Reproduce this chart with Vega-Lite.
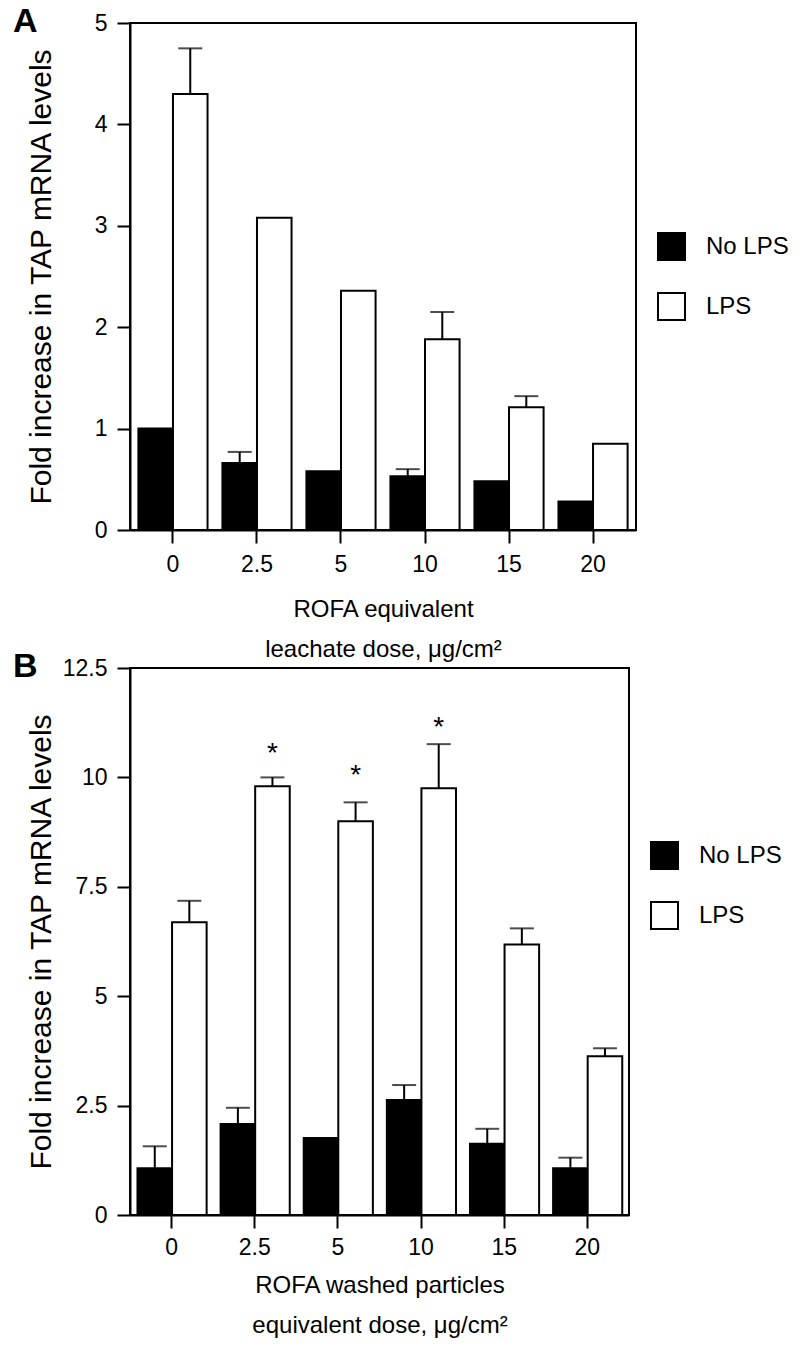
{
  "$schema": "https://vega.github.io/schema/vega-lite/v6.json",
  "background": "white",
  "padding": {"left": 12, "top": 4, "right": 5, "bottom": 5},
  "bounds": "flush",
  "spacing": 138,
  "resolve": {"scale": {"fill": "independent"}, "legend": {"fill": "independent"}},
  "config": {
    "font": "Liberation Sans",
    "view": {"stroke": "black", "strokeWidth": 2},
    "axis": {
      "domainColor": "black", "domainWidth": 2, "tickColor": "black", "tickWidth": 2, "tickSize": 13,
      "labelColor": "black", "labelFontSize": 23, "labelFont": "Liberation Sans",
      "titleFont": "Liberation Sans", "titleFontWeight": "normal", "titleColor": "black", "grid": false
    },
    "legend": {
      "labelFont": "Liberation Sans", "labelFontSize": 24, "labelColor": "black"
    }
  },
  "datasets": {
    "a": [
      {"dose": "0", "group": "No LPS", "value": 1.0, "upper": null},
      {"dose": "0", "group": "LPS", "value": 4.3, "upper": 4.75},
      {"dose": "2.5", "group": "No LPS", "value": 0.66, "upper": 0.77},
      {"dose": "2.5", "group": "LPS", "value": 3.08, "upper": null},
      {"dose": "5", "group": "No LPS", "value": 0.58, "upper": null},
      {"dose": "5", "group": "LPS", "value": 2.36, "upper": null},
      {"dose": "10", "group": "No LPS", "value": 0.53, "upper": 0.6},
      {"dose": "10", "group": "LPS", "value": 1.88, "upper": 2.15},
      {"dose": "15", "group": "No LPS", "value": 0.48, "upper": null},
      {"dose": "15", "group": "LPS", "value": 1.21, "upper": 1.32},
      {"dose": "20", "group": "No LPS", "value": 0.28, "upper": null},
      {"dose": "20", "group": "LPS", "value": 0.85, "upper": null}
    ],
    "b": [
      {"dose": "0", "group": "No LPS", "value": 1.07, "upper": 1.57},
      {"dose": "0", "group": "LPS", "value": 6.69, "upper": 7.18},
      {"dose": "2.5", "group": "No LPS", "value": 2.08, "upper": 2.45},
      {"dose": "2.5", "group": "LPS", "value": 9.8, "upper": 10.0},
      {"dose": "5", "group": "No LPS", "value": 1.76, "upper": null},
      {"dose": "5", "group": "LPS", "value": 9.0, "upper": 9.43},
      {"dose": "10", "group": "No LPS", "value": 2.63, "upper": 2.97},
      {"dose": "10", "group": "LPS", "value": 9.75, "upper": 10.76},
      {"dose": "15", "group": "No LPS", "value": 1.63, "upper": 1.97},
      {"dose": "15", "group": "LPS", "value": 6.18, "upper": 6.55},
      {"dose": "20", "group": "No LPS", "value": 1.07, "upper": 1.31},
      {"dose": "20", "group": "LPS", "value": 3.63, "upper": 3.81}
    ],
    "starsB": [
      {"dose": "2.5", "group": "LPS", "pos": 10.7, "label": "*"},
      {"dose": "5", "group": "LPS", "pos": 10.2, "label": "*"},
      {"dose": "10", "group": "LPS", "pos": 11.3, "label": "*"}
    ]
  },
  "vconcat": [
    {
      "width": 506,
      "height": 507,
      "title": {"text": "A", "anchor": "start", "frame": "group", "orient": "top", "offset": -41, "dx": -117, "dy": 13, "baseline": "alphabetic", "fontSize": 34, "fontWeight": "bold", "color": "black", "font": "Liberation Sans"},
      "data": {"name": "a"},
      "encoding": {
        "x": {
          "field": "dose", "type": "ordinal", "sort": ["0", "2.5", "5", "10", "15", "20"],
          "scale": {"paddingInner": 0.177, "paddingOuter": 0.1},
          "axis": {"labelAngle": 0, "labelPadding": 10, "title": ["ROFA equivalent", "leachate dose, μg/cm²"], "titleFontSize": 24, "titleLineHeight": 40, "titlePadding": 21}
        },
        "xOffset": {"field": "group", "type": "nominal", "sort": ["No LPS", "LPS"]}
      },
      "layer": [
        {
          "mark": {"type": "bar", "stroke": "black", "strokeWidth": 2},
          "encoding": {
            "y": {
              "field": "value", "type": "quantitative", "scale": {"domain": [0, 5], "nice": false},
              "axis": {"values": [0, 1, 2, 3, 4, 5], "format": ".1~f", "labelPadding": 10, "title": "Fold increase in TAP mRNA levels", "titleFontSize": 30, "titleX": -89, "titleY": 253.5, "titleAngle": -90, "titleBaseline": "middle", "titleAlign": "center"}
            },
            "fill": {
              "field": "group", "type": "nominal", "sort": ["No LPS", "LPS"],
              "scale": {"domain": ["No LPS", "LPS"], "range": ["black", "white"]},
              "legend": {"title": null, "orient": "none", "legendX": 527, "legendY": 209, "symbolType": "square", "symbolSize": 729, "symbolStrokeColor": "black", "symbolStrokeWidth": 2, "labelOffset": 20, "rowPadding": 25, "labelFontSize": 24}
            }
          }
        },
        {
          "transform": [{"filter": "datum.upper != null"}],
          "mark": {"type": "rule", "strokeWidth": 2, "color": "black"},
          "encoding": {"y": {"field": "value", "type": "quantitative"}, "y2": {"field": "upper"}}
        },
        {
          "transform": [{"filter": "datum.upper != null"}],
          "mark": {"type": "tick", "thickness": 2, "size": 24, "color": "black"},
          "encoding": {"y": {"field": "upper", "type": "quantitative"}}
        }
      ]
    },
    {
      "width": 499,
      "height": 547,
      "title": {"text": "B", "anchor": "start", "frame": "group", "orient": "top", "offset": -41, "dx": -117, "dy": 13, "baseline": "alphabetic", "fontSize": 34, "fontWeight": "bold", "color": "black", "font": "Liberation Sans"},
      "encoding": {
        "x": {
          "field": "dose", "type": "ordinal", "sort": ["0", "2.5", "5", "10", "15", "20"],
          "scale": {"paddingInner": 0.177, "paddingOuter": 0.09},
          "axis": {"labelAngle": 0, "labelPadding": 8, "title": ["ROFA washed particles", "equivalent dose, μg/cm²"], "titleFontSize": 24, "titleLineHeight": 40, "titlePadding": 14}
        },
        "xOffset": {"field": "group", "type": "nominal", "sort": ["No LPS", "LPS"]}
      },
      "layer": [
        {
          "data": {"name": "b"},
          "mark": {"type": "bar", "stroke": "black", "strokeWidth": 2},
          "encoding": {
            "y": {
              "field": "value", "type": "quantitative", "scale": {"domain": [0, 12.5], "nice": false},
              "axis": {"values": [0, 2.5, 5, 7.5, 10, 12.5], "format": ".1~f", "labelPadding": 10, "title": "Fold increase in TAP mRNA levels", "titleFontSize": 30, "titleX": -89, "titleY": 273.5, "titleAngle": -90, "titleBaseline": "middle", "titleAlign": "center"}
            },
            "fill": {
              "field": "group", "type": "nominal", "sort": ["No LPS", "LPS"],
              "scale": {"domain": ["No LPS", "LPS"], "range": ["black", "white"]},
              "legend": {"title": null, "orient": "none", "legendX": 520, "legendY": 173, "symbolType": "square", "symbolSize": 729, "symbolStrokeColor": "black", "symbolStrokeWidth": 2, "labelOffset": 20, "rowPadding": 25, "labelFontSize": 24}
            }
          }
        },
        {
          "data": {"name": "b"},
          "transform": [{"filter": "datum.upper != null"}],
          "mark": {"type": "rule", "strokeWidth": 2, "color": "black"},
          "encoding": {"y": {"field": "value", "type": "quantitative"}, "y2": {"field": "upper"}}
        },
        {
          "data": {"name": "b"},
          "transform": [{"filter": "datum.upper != null"}],
          "mark": {"type": "tick", "thickness": 2, "size": 24, "color": "black"},
          "encoding": {"y": {"field": "upper", "type": "quantitative"}}
        },
        {
          "data": {"name": "starsB"},
          "mark": {"type": "text", "fontSize": 28, "baseline": "alphabetic", "dy": 15, "color": "black", "font": "Liberation Sans"},
          "encoding": {"y": {"field": "pos", "type": "quantitative"}, "text": {"field": "label"}}
        }
      ]
    }
  ]
}
